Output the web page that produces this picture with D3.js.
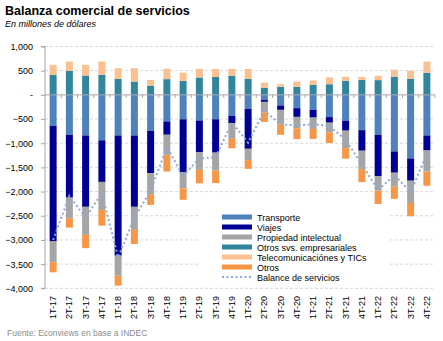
<!DOCTYPE html>
<html>
<head>
<meta charset="utf-8">
<script src="https://cdn.jsdelivr.net/npm/d3@7"></script>
<style>
  body { margin: 0; background: #fff; }
  svg { display: block; font-family: "Liberation Sans", Arial, sans-serif; }
</style>
</head>
<body>
<svg id="chart"></svg>
<script>
// trimestres
const quarters = ["1T-17", "2T-17", "3T-17", "4T-17", "1T-18", "2T-18", "3T-18", "4T-18",
  "1T-19", "2T-19", "3T-19", "4T-19", "1T-20", "2T-20", "3T-20", "4T-20",
  "1T-21", "2T-21", "3T-21", "4T-21", "1T-22", "2T-22", "3T-22", "4T-22"];

// saldos por rubro, millones de USD
const transporte = [-640, -830, -840, -940, -840, -840, -745, -550, -505, -530, -505, -435,
  -290, -105, -220, -275, -310, -460, -535, -730, -825, -1170, -1315, -840];
const viajes = [-2390, -1295, -1475, -860, -2485, -1475, -875, -275, -1100, -660, -690, -150,
  -825, -40, -90, -180, -160, -115, -205, -425, -860, -440, -460, -310];
const propiedad = [-430, -425, -580, -580, -415, -460, -435, -415, -325, -360, -370, -325,
  -235, -215, -290, -235, -235, -205, -360, -380, -295, -290, -460, -435];
const otrosSvs = [410, 495, 400, 415, 330, 275, 190, 325, 290, 360, 370, 395,
  330, 145, 165, 165, 205, 220, 290, 310, 305, 370, 330, 455];
const telecom = [210, 195, 220, 275, 220, 275, 120, 215, 170, 180, 165, 145,
  205, 110, 55, 110, 95, 140, 85, 60, 90, 150, 165, 235];
const otros = [-210, -195, -275, -325, -205, -310, -220, -345, -240, -280, -260, -195,
  -180, -200, -225, -225, -205, -215, -220, -270, -385, -250, -275, -295];
const balance = [-3000, -2090, -2540, -2030, -3360, -2540, -1980, -1080, -1680, -1310, -1290, -570,
  -990, -330, -610, -630, -610, -640, -930, -1440, -1970, -1660, -2010, -1220];

const yTicks = [1000, 500, 0, -500, -1000, -1500, -2000, -2500, -3000, -3500, -4000];

const series = [
  { key: "transporte", name: "Transporte", values: transporte, color: "#4f81bd" },
  { key: "viajes", name: "Viajes", values: viajes, color: "#000094" },
  { key: "propiedad", name: "Propiedad intelectual", values: propiedad, color: "#a5a5a5" },
  { key: "otrosSvs", name: "Otros svs. empresariales", values: otrosSvs, color: "#31859c" },
  { key: "telecom", name: "Telecomunicaciónes y TICs", values: telecom, color: "#fac090" },
  { key: "otros", name: "Otros", values: otros, color: "#f79646" }
];
const lineColor = "#8ea9db";

const width = 443, height = 341;
const svg = d3.select("#chart").attr("width", width).attr("height", height);

const x = d3.scaleBand().domain(quarters).range([45, 435]).paddingInner(0.57).paddingOuter(0.285);
const y = d3.scaleLinear().domain([-4000, 1000]).range([288.3, 46.5]);

// titulo
svg.append("text").attr("x", 5).attr("y", 15)
  .attr("font-size", 12.5).attr("font-weight", "bold").attr("fill", "#000")
  .text("Balanza comercial de servicios");
svg.append("text").attr("x", 5).attr("y", 27)
  .attr("font-size", 9).attr("font-style", "italic").attr("fill", "#000")
  .text("En millones de dólares");

// grilla
svg.append("g").selectAll("line")
  .data(yTicks.filter(d => d !== 0))
  .join("line")
  .attr("x1", 45).attr("x2", 435)
  .attr("y1", d => y(d)).attr("y2", d => y(d))
  .attr("stroke", "#d9d9d9").attr("stroke-dasharray", "3,2");

// eje y
const yAxis = d3.axisLeft(y).tickValues(yTicks).tickSize(4).tickPadding(8)
  .tickFormat(d => d === 0 ? "-" : d3.format(",")(d));
const gy = svg.append("g").attr("transform", "translate(45,0)").call(yAxis);
gy.select(".domain").attr("stroke", "#a6a6a6").attr("d", "M-4," + y(1000) + "H0V" + y(-4000) + "H-4");
gy.selectAll(".tick line").attr("stroke", "#a6a6a6");
gy.selectAll(".tick text").attr("font-size", 9).attr("fill", "#000")
  .attr("font-family", "Liberation Sans, Arial, sans-serif");

// barras apiladas
const table = quarters.map((q, i) => {
  const row = { q: q };
  series.forEach(s => { row[s.key] = s.values[i]; });
  return row;
});
const stacked = d3.stack().keys(series.map(s => s.key)).offset(d3.stackOffsetDiverging)(table);

svg.append("g").selectAll("g")
  .data(stacked)
  .join("g")
  .attr("fill", (d, i) => series[i].color)
  .selectAll("rect")
  .data(d => d)
  .join("rect")
  .attr("x", d => x(d.data.q))
  .attr("width", x.bandwidth())
  .attr("y", d => y(Math.max(d[0], d[1])))
  .attr("height", d => Math.abs(y(d[0]) - y(d[1])));

// linea del cero con marcas entre trimestres
svg.append("line").attr("x1", 45).attr("x2", 435).attr("y1", y(0)).attr("y2", y(0))
  .attr("stroke", "#a6a6a6");
svg.append("g").selectAll("line")
  .data(d3.range(1, quarters.length + 1))
  .join("line")
  .attr("x1", i => 45 + i * x.step()).attr("x2", i => 45 + i * x.step())
  .attr("y1", y(0)).attr("y2", y(0) + 3)
  .attr("stroke", "#a6a6a6");

// balance
const line = d3.line().x((d, i) => x(quarters[i]) + x.bandwidth() / 2).y(d => y(d));
svg.append("path").datum(balance)
  .attr("fill", "none").attr("stroke", lineColor).attr("stroke-width", 2)
  .attr("stroke-dasharray", "2,2.5").attr("d", line);

// etiquetas eje x
svg.append("g").selectAll("text")
  .data(quarters)
  .join("text")
  .attr("transform", d => "translate(" + (x(d) + x.bandwidth() / 2 + 3) + ",296) rotate(-90)")
  .attr("text-anchor", "end").attr("font-size", 9).attr("fill", "#000")
  .text(d => d);

// leyenda
const legend = svg.append("g");
legend.append("rect").attr("x", 199).attr("y", 204).attr("width", 190).attr("height", 80).attr("fill", "#fff");
const items = series.map(s => ({ name: s.name, color: s.color, dotted: false }))
  .concat([{ name: "Balance de servicios", color: lineColor, dotted: true }]);
const li = legend.selectAll("g.item")
  .data(items)
  .join("g")
  .attr("class", "item")
  .attr("transform", (d, i) => "translate(222," + (217 + i * 10) + ")");
li.filter(d => !d.dotted).append("rect")
  .attr("x", 0).attr("y", -2.5).attr("width", 30).attr("height", 5).attr("fill", d => d.color);
li.filter(d => d.dotted).append("line")
  .attr("x1", 0).attr("x2", 30).attr("y1", 0).attr("y2", 0)
  .attr("stroke", d => d.color).attr("stroke-width", 2).attr("stroke-dasharray", "2,2.5");
li.append("text").attr("x", 35).attr("y", 3.5).attr("font-size", 9).attr("fill", "#000")
  .text(d => d.name);

// fuente
svg.append("text").attr("x", 7).attr("y", 336).attr("font-size", 8.5).attr("fill", "#8c8c8c")
  .text("Fuente: Econviews en base a INDEC");
</script>
</body>
</html>
